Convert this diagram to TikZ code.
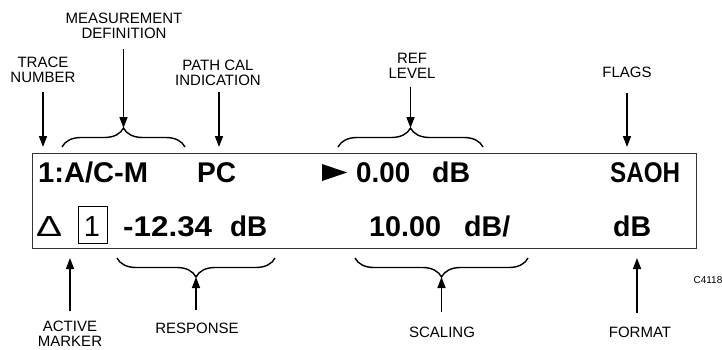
\documentclass[tikz,border=0pt]{standalone}
\usepackage{fontspec}
\setmainfont{Liberation Sans}
\usepackage{graphicx}
\usetikzlibrary{arrows.meta,decorations.pathreplacing}
\newlength{\fitlen}
\newcommand{\fitw}[2]{\settowidth{\fitlen}{#2}\pgfmathsetmacro{\fitfac}{#1/\fitlen}\scalebox{\fitfac}[1]{#2}}
\begin{document}
\begin{tikzpicture}[x=1pt,y=-1pt,
  lbl/.style={font=\fontsize{15}{14.5}\selectfont, align=center, inner sep=0pt},
  small/.style={font=\fontsize{10}{10}\selectfont, inner sep=0pt},
  disp/.style={font=\fontsize{28.5}{28.5}\selectfont\bfseries, inner sep=0pt, anchor=base west},
  dispthin/.style={font=\fontsize{29}{29}\selectfont, inner sep=0pt},
  arr/.style={line width=1.6pt, -{Triangle[length=11pt,width=8pt]}},
  brc/.style={line width=1.4pt, decorate, decoration={brace, amplitude=19pt}},
  panel/.style={draw=black!80, line width=1.1pt, inner sep=0pt}]
\useasboundingbox (0,0) rectangle (722,349);
% display panel
\node[panel, minimum width=664pt, minimum height=95pt, anchor=north west] (panel) at (32,153) {};
% row 1
\node[disp] (trc) at (38,182.5) {\fitw{110}{1:A/C-M}};
\node[disp] (pc) at (197,182.5) {\fitw{39}{PC}};
\fill (322,164) -- (347,172.5) -- (322,181) -- cycle;
\node[disp] (ref0) at (356,182.5) {\fitw{54}{0.00}};
\node[disp] (refdb) at (432,182.5) {\fitw{38}{dB}};
\node[disp] (flg) at (610,182.5) {\fitw{70}{SAOH}};
% row 2
\node[dispthin, anchor=base west] (delta) at (36,236) {\fitw{26}{Δ}};
\node[draw, line width=0.8pt, minimum width=29pt, minimum height=37pt, inner sep=0pt] (mkbox) at (92.5,224.5) {};
\node[dispthin, anchor=base] (mk) at (92,236) {1};
\node[disp] (resp) at (123,236) {\fitw{89}{-12.34}};
\node[disp] (respdb) at (230,236) {\fitw{37}{dB}};
\node[disp] (scl) at (369,236) {\fitw{72}{10.00}};
\node[disp] (scldb) at (464,236) {\fitw{46}{dB/}};
\node[disp] (fmt) at (613,236) {\fitw{38}{dB}};
% top labels
\node[lbl] (Lmeas) at (124,26) {MEASUREMENT\\DEFINITION};
\node[lbl] (Ltrace) at (43,70) {TRACE\\NUMBER};
\node[lbl] (Lpath) at (218,73) {PATH CAL\\INDICATION};
\node[lbl] (Lref) at (412,66) {REF\\LEVEL};
\node[lbl] (Lflags) at (627,72.5) {FLAGS};
% bottom labels
\node[lbl] (Lactive) at (70,334) {ACTIVE\\MARKER};
\node[lbl] (Lresp) at (197,328.5) {RESPONSE};
\node[lbl] (Lscale) at (442,332.5) {SCALING};
\node[lbl] (Lformat) at (640,332.5) {FORMAT};
\node[small] (code) at (708,280) {C4118};
% braces
\draw[brc] (62,147) -- (185,147);
\draw[brc] (338,147) -- (483,147);
\draw[brc] (275,258) -- (117,258);
\draw[brc] (528,258) -- (355,258);
% arrow targets
\coordinate (ctrace) at (43,147);
\coordinate (cmeas) at (123.5,128);
\coordinate (cpath) at (219,147);
\coordinate (cref) at (410.5,128);
\coordinate (cflags) at (627,147);
\coordinate (cactive) at (70,258);
\coordinate (cresp) at (196,277);
\coordinate (cscale) at (441.5,277);
\coordinate (cformat) at (637,258);
% arrows
\draw[arr, shorten <=9pt] (Ltrace) -- (ctrace);
\draw[arr, shorten <=10pt] (Lmeas.south -| cmeas) -- (cmeas);
\draw[arr, shorten <=6pt] (Lpath.south -| cpath) -- (cpath);
\draw[arr, shorten <=8pt] (Lref.south -| cref) -- (cref);
\draw[arr, shorten <=15pt] (Lflags) -- (cflags);
\draw[arr, shorten <=10pt] (Lactive) -- (cactive);
\draw[arr, shorten <=13pt] (Lresp.north -| cresp) -- (cresp);
\draw[arr, shorten <=15pt] (Lscale.north -| cscale) -- (cscale);
\draw[arr, shorten <=14pt] (Lformat.north -| cformat) -- (cformat);
\end{tikzpicture}
\end{document}
